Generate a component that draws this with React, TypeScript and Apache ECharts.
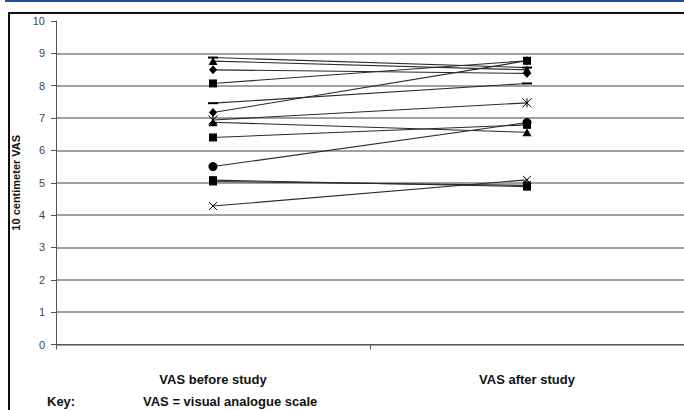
import React, { useEffect, useRef } from "react";
import * as echarts from "echarts";

const categories = ["VAS before study", "VAS after study"];
const yTickLabels = ["0", "1", "2", "3", "4", "5", "6", "7", "8", "9", "10"];
const beforeValues = [8.87, 8.76, 8.49, 8.07, 7.46, 7.17, 6.94, 6.87, 6.4, 5.5, 5.08, 5.04, 4.28];
const afterValues = [8.56, 8.49, 8.38, 8.77, 8.07, 8.77, 7.47, 6.56, 6.79, 6.86, 4.88, 4.92, 5.09];
const markerKinds = ["dash", "triangle", "diamond", "square", "dash", "diamond", "asterisk", "triangle", "square", "circle", "square", "square", "x"];
const keyLabel = "Key:";
const keyText = "VAS = visual analogue scale";
const yAxisTitle = "10 centimeter VAS";

const FONT = 'Arial, "Liberation Sans", sans-serif';

function markerStyle(kind: string) {
  switch (kind) {
    case "triangle":
      return { symbol: "triangle", symbolSize: [9, 8], stroke: false, z: 3 };
    case "diamond":
      return { symbol: "diamond", symbolSize: [8, 9], stroke: false, z: 3 };
    case "square":
      return { symbol: "rect", symbolSize: 8, stroke: false, z: 4 };
    case "circle":
      return { symbol: "circle", symbolSize: 9, stroke: false, z: 2 };
    case "dash":
      return { symbol: "rect", symbolSize: [10, 2], stroke: false, z: 3 };
    case "x":
      return { symbol: "path://M0,0L10,10M10,0L0,10", symbolSize: 8, stroke: true, z: 3 };
    case "asterisk":
      return { symbol: "path://M0,0L10,10M10,0L0,10M5,0L5,10", symbolSize: 9, stroke: true, z: 3 };
    default:
      return { symbol: "none", symbolSize: 0, stroke: false, z: 3 };
  }
}

export default function App() {
  const ref = useRef<HTMLDivElement>(null);
  useEffect(() => {
    if (!ref.current) return;
    const chart = echarts.init(ref.current, null, { renderer: "svg" });
    const series = beforeValues.map((b, i) => {
      const m = markerStyle(markerKinds[i]);
      return {
        type: "line",
        data: [b, afterValues[i]],
        symbol: m.symbol,
        symbolSize: m.symbolSize,
        showSymbol: true,
        lineStyle: { color: "#2a2a2a", width: 1.1 },
        itemStyle: m.stroke
          ? { color: "#000", borderColor: "#000", borderWidth: 1 }
          : { color: "#000", borderWidth: 0 },
        z: m.z,
      };
    });
    const splitColors = yTickLabels.map((_, i) => (i === yTickLabels.length - 1 ? "rgba(0,0,0,0)" : "#808080"));
    chart.setOption({
      animation: false,
      backgroundColor: "#fff",
      grid: { left: 56, top: 21, height: 323.5, width: 640 },
      xAxis: {
        type: "category",
        data: categories,
        boundaryGap: true,
        axisLine: { lineStyle: { color: "#555", width: 1 } },
        axisTick: { show: true, length: 5, lineStyle: { color: "#555" } },
        axisLabel: { color: "#111", fontWeight: "bold", fontSize: 13, fontFamily: FONT, margin: 28 },
      },
      yAxis: {
        type: "value",
        min: 0,
        max: 10,
        interval: 1,
        name: yAxisTitle,
        nameLocation: "middle",
        nameGap: 33,
        nameRotate: 90,
        nameTextStyle: { color: "#111", fontWeight: "bold", fontSize: 11, fontFamily: FONT },
        axisLine: { show: true, lineStyle: { color: "#555", width: 1 } },
        axisTick: { show: true, length: 5, lineStyle: { color: "#555" } },
        axisLabel: {
          color: "#444",
          fontSize: 11,
          fontFamily: FONT,
          margin: 11,
          formatter: (v: number) => yTickLabels[Math.round(v)] ?? String(v),
        },
        splitLine: { show: true, lineStyle: { color: splitColors, width: 1.5 } },
      },
      graphic: [
        { type: "rect", shape: { x: 5, y: 0, width: 679, height: 2 }, style: { fill: "#1f4f9e" } },
        { type: "rect", shape: { x: 8, y: 12, width: 2, height: 398 }, style: { fill: "#111" } },
        { type: "rect", shape: { x: 8, y: 12, width: 676, height: 2 }, style: { fill: "#111" } },
        { type: "text", x: 47, y: 395, style: { text: keyLabel, font: `bold 13px ${FONT}`, fill: "#111" } },
        { type: "text", x: 143, y: 395, style: { text: keyText, font: `bold 13px ${FONT}`, fill: "#111" } },
      ],
      series,
    });
    return () => chart.dispose();
  }, []);
  return (
    <div style={{ position: "fixed", left: 0, top: 0, width: 684, height: 410, background: "#fff" }}>
      <div ref={ref} style={{ width: 684, height: 410 }} />
    </div>
  );
}
